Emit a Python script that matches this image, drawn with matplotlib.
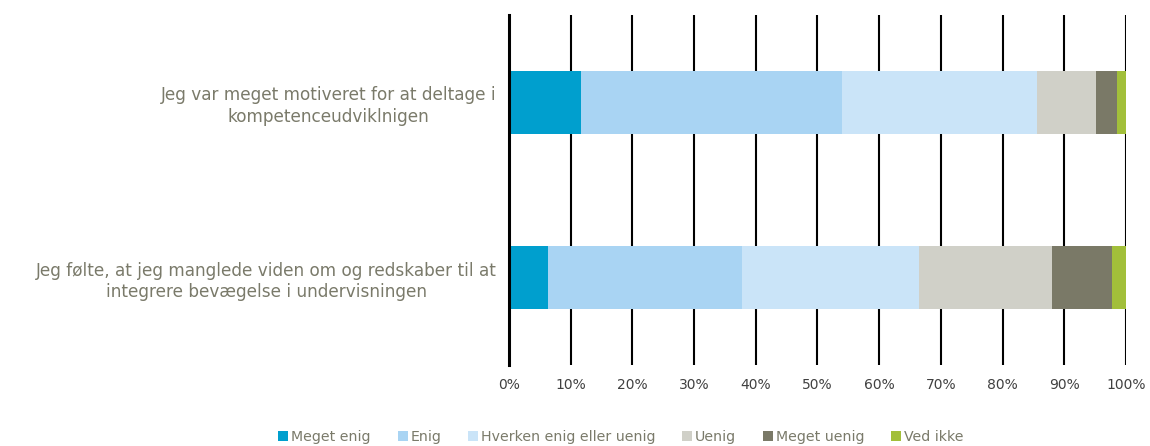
import numpy as np
import matplotlib.pyplot as plt

categories = [
    "Jeg var meget motiveret for at deltage i\nkompetenceudviklnigen",
    "Jeg følte, at jeg manglede viden om og redskaber til at\nintegrere bevægelse i undervisningen",
]
series = ["Meget enig", "Enig", "Hverken enig eller uenig", "Uenig", "Meget uenig", "Ved ikke"]
meget_enig = [11.7, 6.4]
enig = [42.2, 31.3]
hverken = [31.7, 28.8]
uenig = [9.5, 21.5]
meget_uenig = [3.4, 9.7]
ved_ikke = [1.5, 2.3]
xticks = [0, 10, 20, 30, 40, 50, 60, 70, 80, 90, 100]

colors = ["#009FCE", "#A9D4F3", "#CAE4F8", "#D0D0C8", "#7A7967", "#A2BF3A"]
values = [meget_enig, enig, hverken, uenig, meget_uenig, ved_ikke]

fig = plt.figure(figsize=(11.5, 4.46), dpi=100)
ax = fig.add_axes([0.4426, 0.1816, 0.5365, 0.7848])

y = np.arange(len(categories))
left = np.zeros(len(categories))
for name, vals, c in zip(series, values, colors):
    ax.barh(y, vals, left=left, height=0.365, color=c, label=name, zorder=3)
    left += np.array(vals)

ax.set_xlim(0, 100)
ax.set_ylim(1.5, -0.5)
ax.set_xticks(xticks)
ax.set_xticklabels([f"{t}%" for t in xticks], color="#404040", fontsize=10)
ax.set_yticks(y)
ax.set_yticklabels(categories, color="#7A7A6A", fontsize=12.2)
for lab in ax.get_yticklabels():
    lab.set_multialignment("center")
    lab.set_linespacing(1.25)
ax.tick_params(axis="both", length=0)
ax.tick_params(axis="y", pad=9)
ax.tick_params(axis="x", pad=9)
ax.grid(axis="x", color="black", linewidth=1.5, zorder=1)
for s in ["top", "right", "bottom"]:
    ax.spines[s].set_visible(False)
ax.spines["left"].set_linewidth(2.2)
ax.spines["left"].set_zorder(4)

leg = fig.legend(loc="lower center", bbox_to_anchor=(0.54, -0.025), ncol=6, frameon=False,
                 fontsize=10.2, handlelength=0.7, handleheight=0.7, handletextpad=0.2,
                 columnspacing=1.9)
for t in leg.get_texts():
    t.set_color("#7A7A6A")

fig.savefig("out.png", dpi=100)
